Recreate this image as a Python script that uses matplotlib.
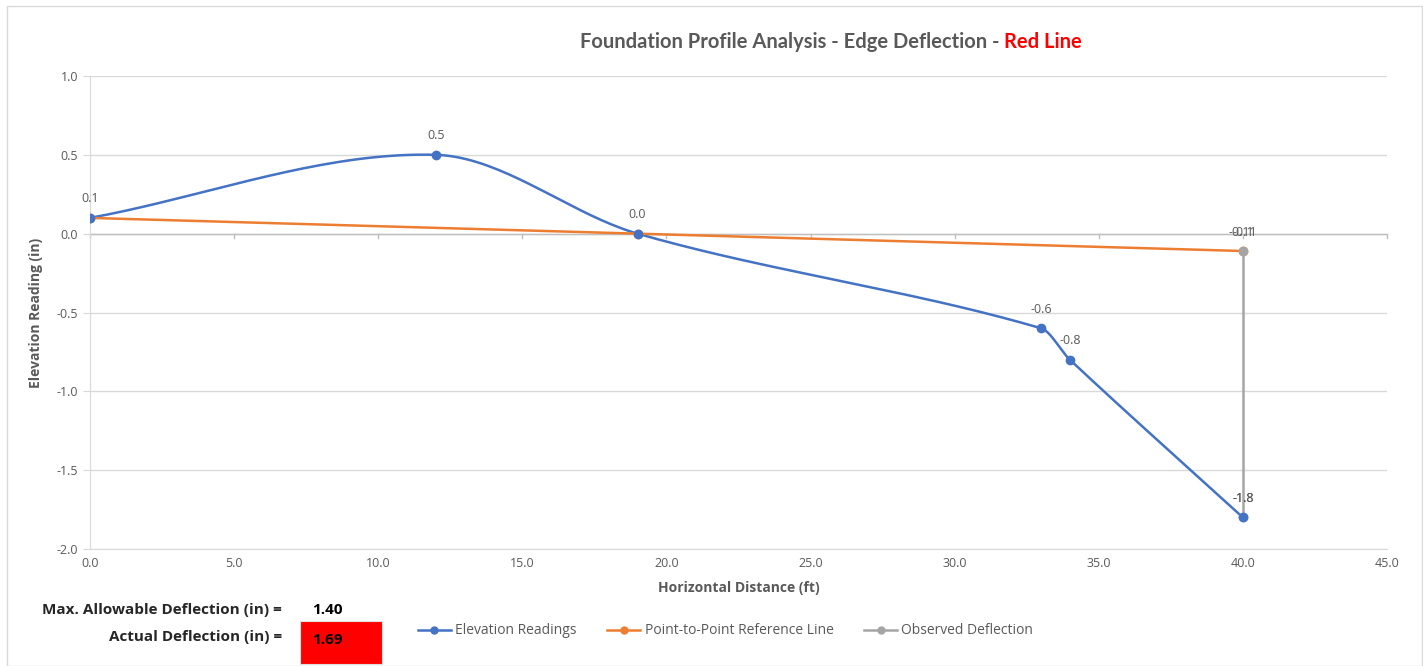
import numpy as np
import matplotlib
matplotlib.use("Agg")
import matplotlib.pyplot as plt
from matplotlib.patches import Rectangle
from matplotlib.lines import Line2D

plt.rcParams['font.family'] = ['Open Sans', 'DejaVu Sans']

# elevation readings
elev_x = [0, 12, 19, 33, 34, 40]
elev_y = [0.1, 0.5, 0.0, -0.6, -0.8, -1.8]
# point-to-point reference line
ref_x = [0, 19, 40]
ref_y = [0.1, 0.0, -0.11]
# observed deflection
obs_x = [40, 40]
obs_y = [-0.11, -1.8]

max_allow = 1.40
actual = 1.69

BLUE = '#4472C4'
ORANGE = '#ED7D31'
GRAY = '#A5A5A5'
TXT = '#595959'


def smooth(xs, ys, n=40):
    # smoothed line through the points (cubic hermite, no loops)
    x = np.asarray(xs, float)
    y = np.asarray(ys, float)
    m = np.zeros_like(y)
    for i in range(len(x)):
        a = max(i - 1, 0)
        b = min(i + 1, len(x) - 1)
        m[i] = (y[b] - y[a]) / (x[b] - x[a])
    ox, oy = [], []
    for i in range(len(x) - 1):
        dx = x[i + 1] - x[i]
        t = np.linspace(0, 1, n)
        h00 = 2 * t ** 3 - 3 * t ** 2 + 1
        h10 = t ** 3 - 2 * t ** 2 + t
        h01 = -2 * t ** 3 + 3 * t ** 2
        h11 = t ** 3 - t ** 2
        ox.append(x[i] + t * dx)
        oy.append(h00 * y[i] + h10 * dx * m[i] + h01 * y[i + 1] + h11 * dx * m[i + 1])
    return np.concatenate(ox), np.concatenate(oy)


fig = plt.figure(figsize=(14.23, 6.66), dpi=100)
W, H = 1423, 666
ax = fig.add_axes([90 / W, 1 - 549 / H, (1387 - 90) / W, (549 - 76) / H])

ax.set_xlim(0, 45)
ax.set_ylim(-2.0, 1.0)
ax.set_yticks(np.arange(-2.0, 1.01, 0.5))
ax.set_xticks(np.arange(0, 45.1, 5))
ax.set_xticklabels([f'{v:.1f}' for v in np.arange(0, 45.1, 5)])
ax.set_yticklabels([f'{v:.1f}' for v in np.arange(-2.0, 1.01, 0.5)])
ax.grid(axis='y', color='#D9D9D9', lw=1)
ax.set_axisbelow(True)
for s in ['top', 'right']:
    ax.spines[s].set_visible(False)
ax.spines['bottom'].set_color('#D9D9D9')
ax.spines['left'].set_color('#D9D9D9')
ax.tick_params(axis='y', colors=TXT, labelsize=9, length=5, color='#D9D9D9')
ax.tick_params(axis='x', colors=TXT, labelsize=9, length=0, pad=6)
# horizontal axis line crossing at zero with tick marks
ax.axhline(0, color='#BFBFBF', lw=1, zorder=1)
for xv in np.arange(0, 45.1, 5):
    ax.plot([xv, xv], [0, -0.03], color='#BFBFBF', lw=1, zorder=1, clip_on=False)

sx, sy = smooth(elev_x, elev_y)
ax.plot(sx, sy, color=BLUE, lw=1.8, zorder=3)
ax.plot(elev_x, elev_y, 'o', color=BLUE, ms=6, zorder=4)
ax.plot(ref_x, ref_y, '-o', color=ORANGE, lw=1.8, ms=6, zorder=3)
ax.plot(obs_x, obs_y, '-o', color=GRAY, lw=1.8, ms=6, zorder=3)

for x, y in zip(elev_x, elev_y):
    ax.annotate(f'{y:.1f}', (x, y), xytext=(0, 9), textcoords='offset points',
                ha='center', va='bottom', fontsize=9, color=TXT)
for x, y in zip(ref_x, ref_y):
    if x in elev_x[:3]:
        continue
    ax.annotate(f'{y:.1f}', (x, y), xytext=(0, 9), textcoords='offset points',
                ha='center', va='bottom', fontsize=9, color=TXT)
for x, y in zip(obs_x, obs_y):
    ax.annotate(f'{y:.2f}' if y > -1 else f'{y:.1f}', (x, y), xytext=(0, 9),
                textcoords='offset points', ha='center', va='bottom', fontsize=9, color=TXT)

ax.set_xlabel('Horizontal Distance (ft)', color=TXT, fontsize=10, fontweight='bold', labelpad=8)
ax.set_ylabel('Elevation Reading (in)', color=TXT, fontsize=10, fontweight='bold', labelpad=10)

t1 = fig.text(580 / W, 1 - 42 / H, 'Foundation Profile Analysis - Edge Deflection - ', ha='left',
              va='center', fontsize=14.5, fontweight='bold', color=TXT, family='Lato')
ax.annotate('Red Line', xy=(1, 0.5), xycoords=t1, ha='left', va='center',
            fontsize=14.5, fontweight='bold', color='#FF0000', family='Lato', annotation_clip=False)

# deflection summary
fig.text(282 / W, 1 - 610 / H, 'Max. Allowable Deflection (in) =', ha='right', va='center',
         fontsize=11, fontweight='bold', color='#262626')
fig.text(312 / W, 1 - 610 / H, f'{max_allow:.2f}', ha='left', va='center',
         fontsize=11, fontweight='bold', color='black')
fig.text(282 / W, 1 - 637 / H, 'Actual Deflection (in) =', ha='right', va='center',
         fontsize=11, fontweight='bold', color='#262626')
fig.patches.append(Rectangle((300 / W, 1 - 664 / H), 82 / W, 43 / H, transform=fig.transFigure,
                             facecolor='#FF0000', edgecolor='#E0E0E0', lw=0.8))
fig.text(312 / W, 1 - 640 / H, f'{actual:.2f}', ha='left', va='center',
         fontsize=11, fontweight='bold', color='black')

# legend
handles = [Line2D([], [], color=BLUE, marker='o', ms=5, lw=1.8),
           Line2D([], [], color=ORANGE, marker='o', ms=5, lw=1.8),
           Line2D([], [], color=GRAY, marker='o', ms=5, lw=1.8)]
fig.legend(handles, ['Elevation Readings', 'Point-to-Point Reference Line', 'Observed Deflection'],
           loc='center left', bbox_to_anchor=(405 / W, 1 - 631 / H), ncol=3, frameon=False,
           fontsize=10, labelcolor=TXT, handlelength=2.4, columnspacing=2.2, handletextpad=0.3)

fig.patches.append(Rectangle((7 / W, 0), 1 - 8 / W, 1 - 6 / H, transform=fig.transFigure,
                             facecolor='none', edgecolor='#D9D9D9', lw=1))

fig.savefig('out.png', dpi=100)
